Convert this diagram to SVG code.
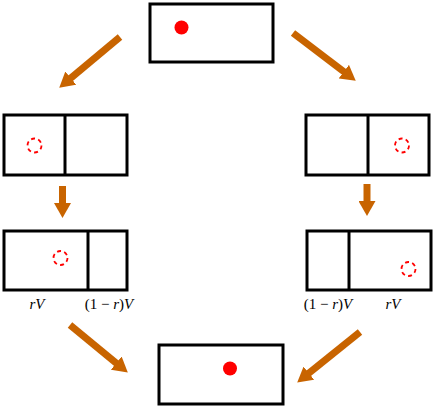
<svg xmlns="http://www.w3.org/2000/svg" width="436" height="409" viewBox="0 0 436 409">
<defs>
<style>
.box{fill:#fff;stroke:#000;stroke-width:3}
.div{stroke:#000;stroke-width:3}
.dot{fill:#ff0000}
.ghost{fill:none;stroke:#ff0000;stroke-width:1.8;stroke-dasharray:4 3.33}
.arr{stroke:#c86400;stroke-width:7;fill:none;marker-end:url(#head)}
.lbl{font-family:"Liberation Serif",serif;font-size:15px;fill:#000;text-anchor:middle}
.it{font-style:italic}
</style>
<marker id="head" markerUnits="userSpaceOnUse" markerWidth="15" markerHeight="17" refX="1" refY="8.5" orient="auto" viewBox="0 0 15 17">
<path d="M0,0 L15,8.5 L0,17 z" fill="#c86400"/>
</marker>
</defs>
<g id="top"><rect class="box" x="150" y="4" width="123" height="58"/><circle class="dot" cx="181.5" cy="27.5" r="7"/></g>
<g id="midLeft"><rect class="box" x="4" y="115" width="123" height="60"/><line class="div" x1="65" y1="115" x2="65" y2="175"/><circle class="ghost" cx="34.5" cy="145.5" r="7"/></g>
<g id="midRight"><rect class="box" x="306" y="115" width="123" height="60"/><line class="div" x1="368" y1="115" x2="368" y2="175"/><circle class="ghost" cx="402" cy="145.5" r="7"/></g>
<g id="lowLeft"><rect class="box" x="4" y="231" width="123" height="59"/><line class="div" x1="88" y1="231" x2="88" y2="290"/><circle class="ghost" cx="60.5" cy="258" r="7"/>
<text class="lbl" x="37" y="309"><tspan class="it">rV</tspan></text>
<text class="lbl" x="109" y="309">(1 − <tspan class="it">r</tspan>)<tspan class="it">V</tspan></text></g>
<g id="lowRight"><rect class="box" x="307" y="231" width="124" height="59"/><line class="div" x1="349" y1="231" x2="349" y2="290"/><circle class="ghost" cx="408.5" cy="269" r="7"/>
<text class="lbl" x="328" y="309">(1 − <tspan class="it">r</tspan>)<tspan class="it">V</tspan></text>
<text class="lbl" x="393" y="309"><tspan class="it">rV</tspan></text></g>
<g id="bottom"><rect class="box" x="159" y="345" width="124" height="59"/><circle class="dot" cx="230" cy="368.5" r="7"/></g>
<g id="connectors">
<line class="arr" x1="120" y1="37" x2="70" y2="78.7"/>
<line class="arr" x1="293" y1="33" x2="344.6" y2="72.2"/>
<line class="arr" x1="62.5" y1="186" x2="62.5" y2="204"/>
<line class="arr" x1="367" y1="184" x2="367" y2="202"/>
<line class="arr" x1="70" y1="325" x2="117" y2="363.7"/>
<line class="arr" x1="360" y1="332" x2="308.1" y2="373.8"/>
</g>
</svg>
